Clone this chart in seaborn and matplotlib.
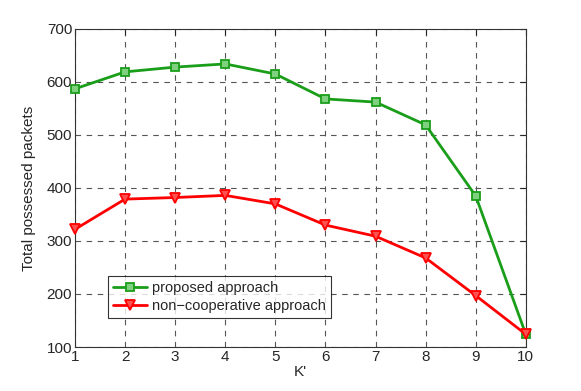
import matplotlib
matplotlib.use("Agg")
import matplotlib.pyplot as plt
import seaborn as sns

k_values = [1, 2, 3, 4, 5, 6, 7, 8, 9, 10]
proposed = [587, 619, 628, 634, 615, 568, 562, 519, 385, 124]
non_coop = [322, 379, 382, 386, 370, 330, 309, 268, 197, 124]
series_names = ["proposed approach", "non\u2212cooperative approach"]

sns.set_style("white")
plt.rcParams["font.family"] = ["Liberation Sans", "DejaVu Sans"]

fig = plt.figure(figsize=(5.81, 3.91), dpi=100)
ax = fig.add_axes([0.129, 0.1125, 0.776, 0.8135])

# две серии рисуем по отдельности, чтобы маркеры были как в оригинале
sns.lineplot(x=k_values, y=proposed, color="#1a9e1a", marker="s", markersize=6,
             markerfacecolor="#7fd07f", markeredgecolor="#1a9e1a", markeredgewidth=1.3,
             linewidth=2, label=series_names[0], ax=ax, clip_on=False, zorder=3)
sns.lineplot(x=k_values, y=non_coop, color="#ff0000", marker="v", markersize=7,
             markerfacecolor="#ff5050", markeredgecolor="#ff0000", markeredgewidth=1.3,
             linewidth=2, label=series_names[1], ax=ax, clip_on=False, zorder=3)

ax.set_xlim(1, 10)
ax.set_ylim(100, 700)
ax.set_xticks(k_values)
ax.set_yticks(range(100, 701, 100))
ax.grid(True, color="#555555", linestyle=(0, (5, 5)), linewidth=0.8)
ax.tick_params(direction="in", labelsize=11, length=4, pad=2, top=True, right=True)
for s in ax.spines.values():
    s.set_color("#333333")
    s.set_linewidth(0.8)
ax.set_xlabel("K'", fontsize=11, labelpad=1)
ax.set_ylabel("Total possessed packets", fontsize=11, labelpad=8)

leg = ax.legend(loc="lower left", bbox_to_anchor=(0.073, 0.091), fontsize=10.5,
                frameon=True, fancybox=False, edgecolor="black",
                handlelength=2.3, borderpad=0.35, labelspacing=0.25,
                handletextpad=0.4, borderaxespad=0)
leg.get_frame().set_linewidth(0.8)

fig.savefig("out.png", dpi=100)
